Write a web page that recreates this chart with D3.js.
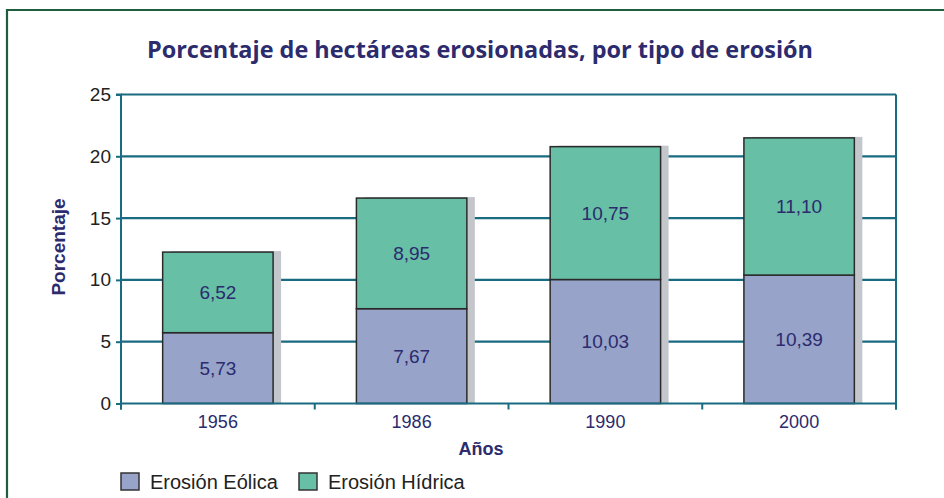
<!DOCTYPE html>
<html>
<head>
<meta charset="utf-8">
<script src="https://cdn.jsdelivr.net/npm/d3@7"></script>
<style>
    body { margin: 0; background: #fff; }
    svg { display: block; }
</style>
</head>
<body>
<div id="chart"></div>
<script>
const years = ['1956', '1986', '1990', '2000'];
const eolica = [5.73, 7.67, 10.03, 10.39];
const hidrica = [6.52, 8.95, 10.75, 11.10];
const seriesNames = ['Erosión Eólica', 'Erosión Hídrica'];
const yTicks = [0, 5, 10, 15, 20, 25];

const width = 944, height = 498;
const margin = { top: 94.5, right: 48, bottom: 94.5, left: 121 };
const navy = '#2b2b6e';
const gridColor = '#186b80';
const colors = ['#97a3c9', '#67bfa6'];
const sans = 'Liberation Sans, Arial, sans-serif';

const es = d3.formatLocale({ decimal: ',', thousands: '.', grouping: [3], currency: ['', ''] });
const fmt = es.format('.2f');

const svg = d3.select('#chart').append('svg')
    .attr('width', width)
    .attr('height', height);

// frame
svg.append('path')
    .attr('d', `M7,${height + 5}V10H${width + 5}`)
    .attr('fill', 'none')
    .attr('stroke', '#1e5e3e')
    .attr('stroke-width', 2.2);

svg.append('text')
    .attr('x', 480)
    .attr('y', 58)
    .attr('text-anchor', 'middle')
    .attr('font-family', 'Open Sans, sans-serif')
    .attr('font-weight', 'bold')
    .attr('font-size', 23)
    .attr('fill', navy)
    .attr('textLength', 666)
    .attr('lengthAdjust', 'spacingAndGlyphs')
    .text('Porcentaje de hectáreas erosionadas, por tipo de erosión');

const plotW = 896 - margin.left;
const plotB = 403.5;

const x = d3.scaleBand()
    .domain(years)
    .range([margin.left, 896])
    .paddingInner(0.43)
    .paddingOuter(0.215);

const y = d3.scaleLinear()
    .domain([0, 25])
    .range([plotB, margin.top]);

const stackData = years.map((yr, i) => ({ year: yr, eolica: eolica[i], hidrica: hidrica[i] }));
const stacked = d3.stack().keys(['eolica', 'hidrica'])(stackData);

// gridlines
svg.append('g')
    .selectAll('line')
    .data(yTicks.filter(d => d > 0))
    .join('line')
    .attr('x1', margin.left)
    .attr('x2', 896)
    .attr('y1', d => y(d))
    .attr('y2', d => y(d))
    .attr('stroke', gridColor)
    .attr('stroke-width', 2.2);

// right border line
svg.append('line')
    .attr('x1', 896).attr('x2', 896)
    .attr('y1', y(25)).attr('y2', plotB + 6)
    .attr('stroke', gridColor)
    .attr('stroke-width', 2);

// shadows
svg.append('g')
    .selectAll('rect')
    .data(stackData)
    .join('rect')
    .attr('x', d => x(d.year) + 8)
    .attr('y', d => y(d.eolica + d.hidrica) - 1)
    .attr('width', x.bandwidth())
    .attr('height', d => plotB - y(d.eolica + d.hidrica) + 1)
    .attr('fill', '#c3c6cb');

// stacked bars
svg.append('g')
    .selectAll('g')
    .data(stacked)
    .join('g')
    .attr('fill', (d, i) => colors[i])
    .selectAll('rect')
    .data(d => d)
    .join('rect')
    .attr('x', d => x(d.data.year))
    .attr('y', d => y(d[1]))
    .attr('width', x.bandwidth())
    .attr('height', d => y(d[0]) - y(d[1]))
    .attr('stroke', '#2a2a2a')
    .attr('stroke-width', 1.5);

// value labels
svg.append('g')
    .selectAll('g')
    .data(stacked)
    .join('g')
    .selectAll('text')
    .data(d => d)
    .join('text')
    .attr('x', d => x(d.data.year) + x.bandwidth() / 2)
    .attr('y', d => y((d[0] + d[1]) / 2))
    .attr('dy', '0.35em')
    .attr('text-anchor', 'middle')
    .attr('font-family', sans)
    .attr('font-size', 19)
    .attr('fill', navy)
    .text(d => fmt(d[1] - d[0]));

// y axis
const yAxis = svg.append('g')
    .attr('transform', `translate(${margin.left},0)`)
    .call(d3.axisLeft(y).tickValues(yTicks).tickSize(5).tickPadding(5));
yAxis.selectAll('line, path').attr('stroke', gridColor).attr('stroke-width', 2);
yAxis.select('.domain').attr('d', `M-5,${y(25)}H0V${plotB + 6}`);
yAxis.selectAll('text')
    .attr('font-family', sans)
    .attr('font-size', 19)
    .attr('fill', '#222');

// x axis with ticks at band boundaries
const xAxis = svg.append('g')
    .attr('transform', `translate(0,${plotB})`);
xAxis.append('line')
    .attr('x1', margin.left).attr('x2', 896)
    .attr('stroke', gridColor)
    .attr('stroke-width', 2);
const step = plotW / years.length;
xAxis.selectAll('.tick')
    .data(d3.range(years.length + 1))
    .join('line')
    .attr('x1', i => margin.left + i * step)
    .attr('x2', i => margin.left + i * step)
    .attr('y1', 0).attr('y2', 6)
    .attr('stroke', gridColor)
    .attr('stroke-width', 2);
xAxis.selectAll('text')
    .data(years)
    .join('text')
    .attr('x', d => x(d) + x.bandwidth() / 2)
    .attr('y', 24)
    .attr('text-anchor', 'middle')
    .attr('font-family', sans)
    .attr('font-size', 18)
    .attr('fill', navy)
    .text(d => d);

// axis titles
svg.append('text')
    .attr('x', 481)
    .attr('y', 455)
    .attr('text-anchor', 'middle')
    .attr('font-family', sans)
    .attr('font-weight', 'bold')
    .attr('font-size', 18)
    .attr('fill', navy)
    .text('Años');

svg.append('text')
    .attr('transform', 'translate(65,247) rotate(-90)')
    .attr('text-anchor', 'middle')
    .attr('font-family', sans)
    .attr('font-weight', 'bold')
    .attr('font-size', 19)
    .attr('fill', navy)
    .text('Porcentaje');

// legend
const legend = svg.append('g')
    .selectAll('g')
    .data(seriesNames)
    .join('g')
    .attr('transform', (d, i) => `translate(${[121, 299][i]},473)`);

legend.append('rect')
    .attr('width', 18)
    .attr('height', 17)
    .attr('fill', (d, i) => colors[i])
    .attr('stroke', '#333')
    .attr('stroke-width', 1.5);

legend.append('text')
    .attr('x', 29)
    .attr('y', 16)
    .attr('font-family', sans)
    .attr('font-size', 20)
    .attr('fill', '#222')
    .text(d => d);
</script>
</body>
</html>
